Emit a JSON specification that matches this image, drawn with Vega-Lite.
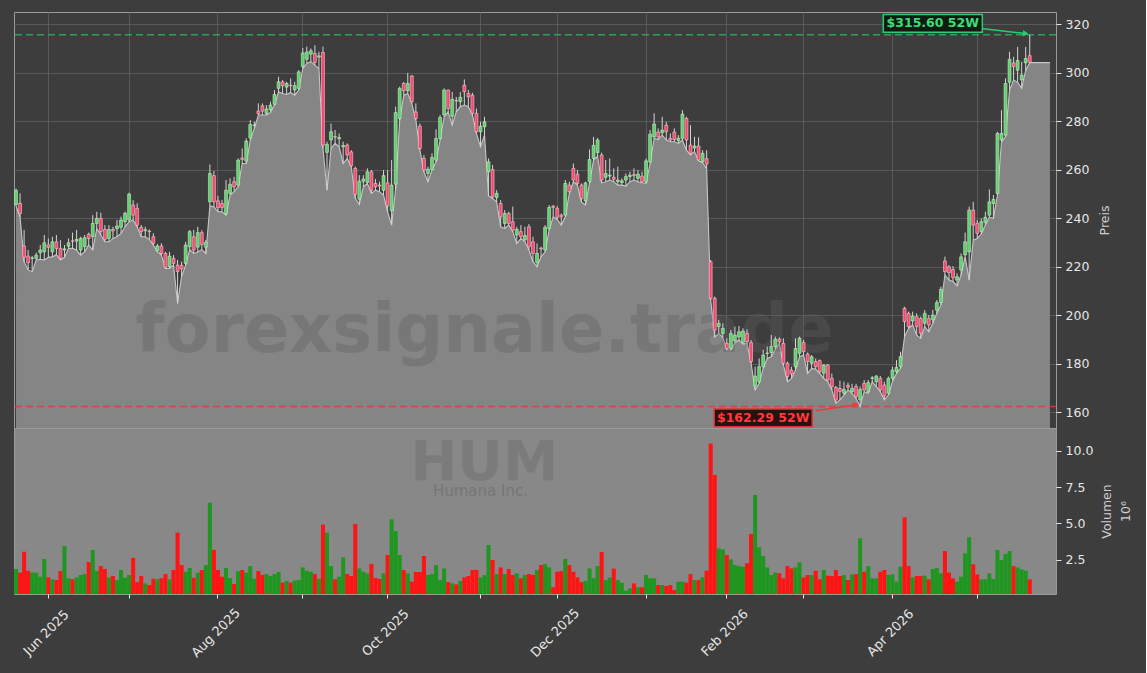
{
"$schema":"https://vega.github.io/schema/vega-lite/v6.json",
"background":"#3d3d3d",
"padding":{"left":12,"top":10,"right":14,"bottom":18},
"spacing":0,
"bounds":"flush",
"config":{"font":"DejaVu Sans","view":{"stroke":"#9a9a9a","strokeWidth":1},"axis":{"labelColor":"#e6e6e6","titleColor":"#cfcfcf","labelFontSize":12.5,"titleFontSize":12.5,"titleFontWeight":"normal","tickColor":"#e6e6e6","domain":false,"labelFont":"DejaVu Sans","titleFont":"DejaVu Sans"}},
"datasets":{"px":[
{"d":"2025-05-20","o":245.6,"h":252.2,"l":245.0,"c":251.4,"v":1.86},
{"d":"2025-05-21","o":246.1,"h":250.2,"l":240.5,"c":241.9,"v":1.61},
{"d":"2025-05-22","o":228.5,"h":235.1,"l":222.0,"c":223.8,"v":3.05},
{"d":"2025-05-23","o":224.3,"h":226.8,"l":218.6,"c":221.6,"v":1.74},
{"d":"2025-05-27","o":223.4,"h":224.3,"l":217.9,"c":223.6,"v":1.61},
{"d":"2025-05-28","o":223.4,"h":225.7,"l":222.7,"c":224.7,"v":1.61},
{"d":"2025-05-29","o":225.7,"h":228.9,"l":223.0,"c":226.8,"v":1.33},
{"d":"2025-05-30","o":226.1,"h":233.0,"l":222.7,"c":229.8,"v":2.55},
{"d":"2025-06-02","o":228.9,"h":231.6,"l":223.8,"c":227.9,"v":1.28},
{"d":"2025-06-03","o":226.1,"h":232.3,"l":224.0,"c":230.2,"v":1.15},
{"d":"2025-06-04","o":230.2,"h":233.0,"l":225.0,"c":227.5,"v":1.10},
{"d":"2025-06-05","o":227.5,"h":230.9,"l":222.7,"c":223.4,"v":1.72},
{"d":"2025-06-06","o":226.8,"h":228.9,"l":223.8,"c":227.3,"v":3.44},
{"d":"2025-06-09","o":228.4,"h":231.6,"l":227.5,"c":229.8,"v":1.22},
{"d":"2025-06-10","o":230.6,"h":234.0,"l":227.5,"c":230.4,"v":1.15},
{"d":"2025-06-11","o":230.5,"h":235.1,"l":226.8,"c":231.2,"v":1.28},
{"d":"2025-06-12","o":226.8,"h":232.3,"l":224.7,"c":231.6,"v":1.45},
{"d":"2025-06-13","o":228.2,"h":233.0,"l":226.1,"c":231.9,"v":1.51},
{"d":"2025-06-16","o":233.3,"h":234.0,"l":228.9,"c":231.6,"v":2.34},
{"d":"2025-06-17","o":232.3,"h":241.2,"l":226.8,"c":237.8,"v":3.17},
{"d":"2025-06-18","o":237.8,"h":242.6,"l":235.7,"c":239.9,"v":1.72},
{"d":"2025-06-20","o":239.9,"h":242.2,"l":233.0,"c":234.4,"v":2.06},
{"d":"2025-06-23","o":235.3,"h":237.1,"l":230.2,"c":231.2,"v":1.86},
{"d":"2025-06-24","o":231.6,"h":237.1,"l":230.2,"c":235.3,"v":1.28},
{"d":"2025-06-25","o":235.3,"h":236.4,"l":231.6,"c":234.7,"v":1.38},
{"d":"2025-06-26","o":235.6,"h":239.2,"l":232.3,"c":236.7,"v":1.10},
{"d":"2025-06-27","o":236.2,"h":240.6,"l":233.7,"c":239.2,"v":1.79},
{"d":"2025-06-30","o":238.5,"h":242.6,"l":236.4,"c":242.0,"v":1.26},
{"d":"2025-07-01","o":239.2,"h":250.5,"l":238.5,"c":249.9,"v":1.45},
{"d":"2025-07-02","o":245.4,"h":247.4,"l":239.2,"c":241.2,"v":2.62},
{"d":"2025-07-03","o":244.0,"h":246.1,"l":236.4,"c":237.1,"v":0.96},
{"d":"2025-07-07","o":236.2,"h":237.1,"l":232.3,"c":234.4,"v":1.38},
{"d":"2025-07-08","o":234.8,"h":236.4,"l":232.3,"c":235.2,"v":0.87},
{"d":"2025-07-09","o":234.6,"h":235.3,"l":231.2,"c":234.4,"v":0.76},
{"d":"2025-07-10","o":232.3,"h":233.7,"l":228.9,"c":229.6,"v":1.19},
{"d":"2025-07-11","o":226.5,"h":229.3,"l":226.1,"c":228.5,"v":1.15},
{"d":"2025-07-14","o":228.5,"h":229.6,"l":224.7,"c":225.4,"v":1.22},
{"d":"2025-07-15","o":225.4,"h":226.1,"l":219.2,"c":219.7,"v":1.51},
{"d":"2025-07-16","o":220.0,"h":226.1,"l":219.2,"c":224.3,"v":1.15},
{"d":"2025-07-17","o":223.4,"h":224.7,"l":220.6,"c":221.3,"v":1.79},
{"d":"2025-07-18","o":220.6,"h":222.7,"l":204.8,"c":217.9,"v":4.36},
{"d":"2025-07-21","o":220.5,"h":222.0,"l":216.0,"c":219.0,"v":2.13},
{"d":"2025-07-22","o":221.3,"h":230.2,"l":220.6,"c":228.9,"v":1.67},
{"d":"2025-07-23","o":228.2,"h":235.1,"l":227.0,"c":234.4,"v":1.93},
{"d":"2025-07-24","o":232.3,"h":235.1,"l":225.4,"c":226.8,"v":1.26},
{"d":"2025-07-25","o":228.0,"h":236.4,"l":226.0,"c":234.0,"v":1.61},
{"d":"2025-07-28","o":234.0,"h":235.0,"l":227.0,"c":229.0,"v":1.79},
{"d":"2025-07-29","o":228.0,"h":231.0,"l":225.4,"c":230.0,"v":2.13},
{"d":"2025-07-30","o":246.7,"h":262.1,"l":245.0,"c":258.4,"v":6.42},
{"d":"2025-07-31","o":257.5,"h":259.4,"l":244.7,"c":246.7,"v":3.17},
{"d":"2025-08-01","o":247.1,"h":249.2,"l":242.6,"c":244.3,"v":1.79},
{"d":"2025-08-04","o":246.0,"h":247.5,"l":242.6,"c":244.3,"v":1.33},
{"d":"2025-08-05","o":241.9,"h":255.7,"l":241.2,"c":251.5,"v":1.93},
{"d":"2025-08-06","o":250.2,"h":256.4,"l":249.5,"c":253.9,"v":1.24},
{"d":"2025-08-07","o":255.0,"h":257.0,"l":250.9,"c":252.9,"v":0.83},
{"d":"2025-08-08","o":253.6,"h":264.6,"l":252.9,"c":263.9,"v":1.72},
{"d":"2025-08-11","o":264.8,"h":268.7,"l":262.5,"c":264.2,"v":1.79},
{"d":"2025-08-12","o":263.5,"h":272.9,"l":262.5,"c":271.8,"v":1.61},
{"d":"2025-08-13","o":273.1,"h":280.4,"l":272.2,"c":278.6,"v":2.06},
{"d":"2025-08-14","o":278.2,"h":279.7,"l":277.0,"c":278.4,"v":1.19},
{"d":"2025-08-15","o":284.1,"h":287.3,"l":282.5,"c":283.1,"v":1.72},
{"d":"2025-08-18","o":286.3,"h":287.3,"l":282.5,"c":284.1,"v":1.45},
{"d":"2025-08-19","o":283.1,"h":286.6,"l":282.5,"c":285.0,"v":1.51},
{"d":"2025-08-20","o":284.7,"h":288.0,"l":283.6,"c":286.6,"v":1.38},
{"d":"2025-08-21","o":286.9,"h":292.8,"l":286.6,"c":291.0,"v":1.51},
{"d":"2025-08-22","o":293.5,"h":298.3,"l":292.1,"c":296.2,"v":1.65},
{"d":"2025-08-25","o":296.2,"h":296.9,"l":291.4,"c":294.6,"v":0.92},
{"d":"2025-08-26","o":294.0,"h":296.2,"l":291.0,"c":295.5,"v":1.03},
{"d":"2025-08-27","o":294.8,"h":297.6,"l":291.8,"c":294.6,"v":0.92},
{"d":"2025-08-28","o":292.8,"h":296.2,"l":290.7,"c":294.6,"v":1.06},
{"d":"2025-08-29","o":293.5,"h":301.0,"l":292.8,"c":300.3,"v":1.10},
{"d":"2025-09-02","o":302.5,"h":310.2,"l":301.7,"c":308.1,"v":1.97},
{"d":"2025-09-03","o":305.5,"h":310.7,"l":303.8,"c":308.5,"v":1.74},
{"d":"2025-09-04","o":307.6,"h":310.0,"l":304.5,"c":309.0,"v":1.67},
{"d":"2025-09-05","o":307.9,"h":311.3,"l":303.1,"c":304.2,"v":1.51},
{"d":"2025-09-08","o":306.4,"h":308.6,"l":301.7,"c":306.9,"v":1.19},
{"d":"2025-09-09","o":308.3,"h":310.7,"l":268.7,"c":270.1,"v":4.91},
{"d":"2025-09-10","o":267.1,"h":271.5,"l":251.5,"c":270.4,"v":4.36},
{"d":"2025-09-11","o":272.2,"h":279.0,"l":268.7,"c":275.6,"v":2.06},
{"d":"2025-09-12","o":273.6,"h":276.3,"l":270.8,"c":273.4,"v":1.15},
{"d":"2025-09-15","o":272.7,"h":274.9,"l":269.4,"c":273.2,"v":1.33},
{"d":"2025-09-16","o":269.4,"h":271.5,"l":262.5,"c":269.9,"v":2.66},
{"d":"2025-09-17","o":270.1,"h":270.8,"l":264.6,"c":266.0,"v":1.51},
{"d":"2025-09-18","o":267.3,"h":268.0,"l":261.2,"c":261.6,"v":1.38},
{"d":"2025-09-19","o":260.5,"h":261.2,"l":248.1,"c":249.8,"v":4.95},
{"d":"2025-09-22","o":247.8,"h":257.7,"l":245.6,"c":255.2,"v":1.90},
{"d":"2025-09-23","o":255.2,"h":257.7,"l":252.9,"c":256.1,"v":1.67},
{"d":"2025-09-24","o":254.7,"h":260.5,"l":254.3,"c":259.1,"v":1.56},
{"d":"2025-09-25","o":259.1,"h":259.8,"l":250.2,"c":251.5,"v":2.20},
{"d":"2025-09-26","o":254.3,"h":256.1,"l":251.5,"c":252.9,"v":1.24},
{"d":"2025-09-29","o":253.6,"h":255.0,"l":250.9,"c":253.2,"v":1.17},
{"d":"2025-09-30","o":251.5,"h":259.8,"l":249.5,"c":257.5,"v":1.56},
{"d":"2025-10-01","o":254.5,"h":259.8,"l":242.6,"c":245.0,"v":2.82},
{"d":"2025-10-02","o":243.0,"h":263.9,"l":237.1,"c":253.6,"v":5.28},
{"d":"2025-10-03","o":254.0,"h":286.0,"l":252.0,"c":283.5,"v":4.47},
{"d":"2025-10-06","o":281.1,"h":294.2,"l":280.4,"c":293.5,"v":2.82},
{"d":"2025-10-07","o":295.5,"h":296.2,"l":290.7,"c":292.5,"v":1.79},
{"d":"2025-10-08","o":292.5,"h":299.9,"l":291.4,"c":295.5,"v":1.56},
{"d":"2025-10-09","o":298.6,"h":299.0,"l":287.3,"c":288.0,"v":0.99},
{"d":"2025-10-10","o":283.8,"h":287.3,"l":280.4,"c":281.1,"v":1.65},
{"d":"2025-10-13","o":277.9,"h":279.0,"l":268.0,"c":268.7,"v":1.65},
{"d":"2025-10-14","o":264.6,"h":266.0,"l":259.1,"c":259.8,"v":2.75},
{"d":"2025-10-15","o":258.4,"h":261.2,"l":255.0,"c":260.2,"v":1.45},
{"d":"2025-10-16","o":260.0,"h":266.7,"l":259.8,"c":265.0,"v":1.51},
{"d":"2025-10-17","o":263.9,"h":276.6,"l":263.2,"c":272.8,"v":2.13},
{"d":"2025-10-20","o":272.8,"h":282.5,"l":272.2,"c":281.5,"v":1.10},
{"d":"2025-10-21","o":282.5,"h":293.5,"l":281.8,"c":292.8,"v":1.90},
{"d":"2025-10-22","o":292.8,"h":293.0,"l":283.8,"c":285.2,"v":0.96},
{"d":"2025-10-23","o":282.0,"h":292.0,"l":278.3,"c":289.0,"v":0.87},
{"d":"2025-10-24","o":288.5,"h":290.0,"l":283.8,"c":288.3,"v":0.80},
{"d":"2025-10-27","o":288.0,"h":292.0,"l":285.9,"c":289.8,"v":1.03},
{"d":"2025-10-28","o":294.8,"h":297.2,"l":286.6,"c":292.1,"v":1.28},
{"d":"2025-10-29","o":291.4,"h":292.8,"l":285.9,"c":290.0,"v":1.38},
{"d":"2025-10-30","o":290.7,"h":291.7,"l":282.5,"c":283.2,"v":1.79},
{"d":"2025-10-31","o":283.2,"h":285.2,"l":274.9,"c":275.6,"v":1.79},
{"d":"2025-11-03","o":275.6,"h":279.7,"l":269.4,"c":277.9,"v":1.28},
{"d":"2025-11-04","o":277.7,"h":281.8,"l":274.2,"c":279.7,"v":1.45},
{"d":"2025-11-05","o":259.1,"h":264.6,"l":249.1,"c":263.2,"v":3.51},
{"d":"2025-11-06","o":260.0,"h":261.9,"l":248.1,"c":248.8,"v":2.48},
{"d":"2025-11-07","o":248.5,"h":251.5,"l":246.7,"c":250.2,"v":1.51},
{"d":"2025-11-10","o":246.0,"h":247.4,"l":236.4,"c":240.5,"v":1.97},
{"d":"2025-11-11","o":237.8,"h":243.3,"l":235.7,"c":241.9,"v":1.51},
{"d":"2025-11-12","o":241.9,"h":242.6,"l":237.1,"c":237.8,"v":1.86},
{"d":"2025-11-13","o":238.5,"h":244.7,"l":234.4,"c":235.0,"v":1.45},
{"d":"2025-11-14","o":233.0,"h":236.4,"l":229.5,"c":235.3,"v":1.56},
{"d":"2025-11-17","o":234.4,"h":237.1,"l":231.6,"c":232.3,"v":1.22},
{"d":"2025-11-18","o":231.0,"h":236.4,"l":230.2,"c":232.8,"v":1.45},
{"d":"2025-11-19","o":236.4,"h":237.5,"l":226.8,"c":228.2,"v":1.51},
{"d":"2025-11-20","o":230.2,"h":232.3,"l":222.0,"c":225.4,"v":1.45},
{"d":"2025-11-21","o":221.6,"h":229.5,"l":219.9,"c":225.4,"v":1.79},
{"d":"2025-11-24","o":227.6,"h":228.2,"l":224.0,"c":227.3,"v":2.13},
{"d":"2025-11-25","o":226.8,"h":237.1,"l":226.1,"c":236.2,"v":2.20},
{"d":"2025-11-26","o":235.7,"h":245.4,"l":235.0,"c":244.4,"v":1.97},
{"d":"2025-11-28","o":244.9,"h":245.4,"l":240.5,"c":244.4,"v":0.60},
{"d":"2025-12-01","o":244.0,"h":244.9,"l":239.4,"c":240.3,"v":1.67},
{"d":"2025-12-02","o":241.2,"h":241.9,"l":237.1,"c":240.5,"v":1.72},
{"d":"2025-12-03","o":241.2,"h":255.7,"l":240.5,"c":254.3,"v":2.55},
{"d":"2025-12-04","o":253.6,"h":255.0,"l":250.2,"c":250.9,"v":2.13},
{"d":"2025-12-05","o":260.5,"h":262.5,"l":255.0,"c":255.7,"v":1.67},
{"d":"2025-12-08","o":258.1,"h":259.8,"l":253.6,"c":254.3,"v":1.28},
{"d":"2025-12-09","o":253.6,"h":254.3,"l":246.7,"c":248.1,"v":0.96},
{"d":"2025-12-10","o":247.1,"h":255.0,"l":245.4,"c":254.5,"v":1.03},
{"d":"2025-12-11","o":255.0,"h":268.3,"l":254.3,"c":264.2,"v":1.90},
{"d":"2025-12-12","o":264.6,"h":273.5,"l":264.0,"c":270.0,"v":1.22},
{"d":"2025-12-15","o":267.0,"h":273.0,"l":265.5,"c":272.2,"v":2.06},
{"d":"2025-12-16","o":266.0,"h":267.0,"l":254.5,"c":255.7,"v":3.03},
{"d":"2025-12-17","o":256.8,"h":263.9,"l":255.0,"c":258.4,"v":1.10},
{"d":"2025-12-18","o":257.3,"h":264.6,"l":255.7,"c":257.7,"v":1.28},
{"d":"2025-12-19","o":256.8,"h":260.5,"l":255.0,"c":256.0,"v":1.88},
{"d":"2025-12-22","o":255.0,"h":261.2,"l":253.6,"c":255.7,"v":1.10},
{"d":"2025-12-23","o":254.6,"h":256.4,"l":253.6,"c":255.4,"v":0.92},
{"d":"2025-12-24","o":255.7,"h":258.4,"l":253.2,"c":257.1,"v":0.37},
{"d":"2025-12-26","o":257.1,"h":259.1,"l":255.0,"c":257.7,"v":0.53},
{"d":"2025-12-29","o":257.9,"h":260.5,"l":255.7,"c":257.5,"v":0.87},
{"d":"2025-12-30","o":256.4,"h":259.8,"l":255.0,"c":258.1,"v":0.60},
{"d":"2025-12-31","o":257.3,"h":259.1,"l":254.6,"c":255.0,"v":0.60},
{"d":"2026-01-02","o":255.0,"h":264.6,"l":254.3,"c":263.6,"v":1.45},
{"d":"2026-01-05","o":263.2,"h":276.3,"l":262.5,"c":274.6,"v":1.22},
{"d":"2026-01-06","o":273.5,"h":283.2,"l":272.9,"c":278.8,"v":1.22},
{"d":"2026-01-07","o":275.5,"h":277.0,"l":272.4,"c":273.5,"v":0.76},
{"d":"2026-01-08","o":275.2,"h":281.8,"l":274.2,"c":276.3,"v":0.76},
{"d":"2026-01-09","o":278.3,"h":279.7,"l":272.2,"c":275.6,"v":0.69},
{"d":"2026-01-12","o":272.9,"h":274.9,"l":271.5,"c":272.2,"v":0.76},
{"d":"2026-01-13","o":275.5,"h":277.0,"l":271.5,"c":272.4,"v":0.41},
{"d":"2026-01-14","o":271.9,"h":274.2,"l":270.8,"c":272.9,"v":0.99},
{"d":"2026-01-15","o":272.9,"h":284.5,"l":272.2,"c":282.9,"v":0.99},
{"d":"2026-01-16","o":281.1,"h":281.8,"l":268.0,"c":272.2,"v":0.92},
{"d":"2026-01-20","o":270.1,"h":278.3,"l":266.0,"c":266.7,"v":1.51},
{"d":"2026-01-21","o":268.9,"h":273.5,"l":267.4,"c":269.7,"v":1.10},
{"d":"2026-01-22","o":269.7,"h":273.3,"l":263.6,"c":263.9,"v":1.10},
{"d":"2026-01-23","o":263.2,"h":268.0,"l":262.8,"c":266.7,"v":1.28},
{"d":"2026-01-26","o":264.5,"h":268.0,"l":260.5,"c":262.3,"v":1.74},
{"d":"2026-01-27","o":222.0,"h":222.7,"l":206.2,"c":206.9,"v":10.5},
{"d":"2026-01-28","o":206.9,"h":207.6,"l":191.0,"c":193.8,"v":8.33},
{"d":"2026-01-29","o":195.2,"h":198.0,"l":192.4,"c":196.6,"v":3.28},
{"d":"2026-01-30","o":192.4,"h":196.6,"l":190.8,"c":194.5,"v":3.21},
{"d":"2026-02-02","o":188.3,"h":190.4,"l":185.6,"c":186.2,"v":2.82},
{"d":"2026-02-03","o":186.2,"h":193.8,"l":185.6,"c":192.4,"v":2.52},
{"d":"2026-02-04","o":189.4,"h":195.2,"l":188.6,"c":191.7,"v":2.13},
{"d":"2026-02-05","o":191.0,"h":195.5,"l":189.7,"c":193.1,"v":2.06},
{"d":"2026-02-06","o":188.6,"h":194.5,"l":188.0,"c":193.4,"v":2.02},
{"d":"2026-02-09","o":192.4,"h":194.1,"l":188.3,"c":189.0,"v":2.25},
{"d":"2026-02-10","o":188.6,"h":189.7,"l":180.1,"c":180.8,"v":4.27},
{"d":"2026-02-11","o":170.7,"h":178.7,"l":169.1,"c":174.8,"v":6.95},
{"d":"2026-02-12","o":172.5,"h":182.1,"l":171.8,"c":178.7,"v":3.35},
{"d":"2026-02-13","o":178.7,"h":185.6,"l":178.0,"c":183.5,"v":2.75},
{"d":"2026-02-17","o":184.1,"h":187.0,"l":182.1,"c":184.3,"v":1.97},
{"d":"2026-02-18","o":184.5,"h":191.8,"l":182.8,"c":187.0,"v":1.44},
{"d":"2026-02-19","o":187.0,"h":191.1,"l":185.8,"c":190.0,"v":1.61},
{"d":"2026-02-20","o":190.0,"h":190.8,"l":188.3,"c":189.0,"v":1.56},
{"d":"2026-02-23","o":188.3,"h":190.4,"l":179.4,"c":180.1,"v":1.22},
{"d":"2026-02-24","o":180.1,"h":180.8,"l":172.5,"c":174.6,"v":2.06},
{"d":"2026-02-25","o":177.3,"h":178.7,"l":173.9,"c":175.7,"v":1.90},
{"d":"2026-02-26","o":178.7,"h":190.4,"l":177.3,"c":186.2,"v":1.97},
{"d":"2026-02-27","o":184.2,"h":191.1,"l":182.8,"c":190.4,"v":2.32},
{"d":"2026-03-02","o":188.6,"h":189.7,"l":183.5,"c":184.9,"v":1.28},
{"d":"2026-03-03","o":183.9,"h":184.5,"l":175.9,"c":180.8,"v":1.44},
{"d":"2026-03-04","o":180.1,"h":183.5,"l":178.0,"c":182.8,"v":1.44},
{"d":"2026-03-05","o":180.8,"h":182.1,"l":177.6,"c":178.7,"v":1.74},
{"d":"2026-03-06","o":181.2,"h":181.7,"l":175.9,"c":176.6,"v":1.15},
{"d":"2026-03-09","o":176.0,"h":179.8,"l":173.9,"c":179.4,"v":1.79},
{"d":"2026-03-10","o":179.4,"h":179.8,"l":172.5,"c":173.2,"v":1.40},
{"d":"2026-03-11","o":173.9,"h":175.9,"l":169.1,"c":170.5,"v":1.38},
{"d":"2026-03-12","o":170.2,"h":170.7,"l":163.6,"c":165.0,"v":1.79},
{"d":"2026-03-13","o":169.7,"h":172.9,"l":165.0,"c":168.5,"v":1.38},
{"d":"2026-03-16","o":167.7,"h":172.5,"l":167.0,"c":169.3,"v":1.44},
{"d":"2026-03-17","o":171.0,"h":172.1,"l":169.1,"c":170.2,"v":1.10},
{"d":"2026-03-18","o":168.4,"h":171.6,"l":167.7,"c":169.7,"v":1.49},
{"d":"2026-03-19","o":170.5,"h":171.6,"l":165.6,"c":166.3,"v":1.51},
{"d":"2026-03-20","o":165.0,"h":170.5,"l":162.29,"c":169.3,"v":3.97},
{"d":"2026-03-23","o":171.8,"h":173.2,"l":168.4,"c":169.1,"v":1.67},
{"d":"2026-03-24","o":168.4,"h":173.2,"l":167.7,"c":172.1,"v":2.06},
{"d":"2026-03-25","o":173.9,"h":174.8,"l":172.5,"c":174.1,"v":1.22},
{"d":"2026-03-26","o":172.5,"h":175.3,"l":170.5,"c":174.8,"v":1.22},
{"d":"2026-03-27","o":173.9,"h":174.8,"l":168.4,"c":169.1,"v":1.67},
{"d":"2026-03-30","o":171.1,"h":172.5,"l":165.0,"c":166.6,"v":1.79},
{"d":"2026-03-31","o":167.7,"h":174.6,"l":167.0,"c":173.9,"v":1.44},
{"d":"2026-04-01","o":173.9,"h":178.7,"l":172.5,"c":177.3,"v":1.49},
{"d":"2026-04-02","o":176.6,"h":181.4,"l":175.9,"c":178.4,"v":0.99},
{"d":"2026-04-06","o":178.7,"h":184.9,"l":178.0,"c":182.8,"v":2.02},
{"d":"2026-04-07","o":202.8,"h":203.4,"l":191.1,"c":197.3,"v":5.41},
{"d":"2026-04-08","o":200.7,"h":201.4,"l":194.5,"c":195.2,"v":2.06},
{"d":"2026-04-09","o":197.6,"h":201.4,"l":195.9,"c":199.6,"v":1.28},
{"d":"2026-04-10","o":199.3,"h":200.7,"l":191.8,"c":195.2,"v":1.38},
{"d":"2026-04-13","o":198.6,"h":199.3,"l":190.4,"c":192.4,"v":1.38},
{"d":"2026-04-14","o":196.6,"h":202.1,"l":195.2,"c":200.7,"v":1.40},
{"d":"2026-04-15","o":198.6,"h":200.0,"l":193.1,"c":195.9,"v":1.15},
{"d":"2026-04-16","o":198.0,"h":202.1,"l":196.6,"c":200.0,"v":1.86},
{"d":"2026-04-17","o":202.0,"h":206.2,"l":200.7,"c":205.1,"v":1.93},
{"d":"2026-04-20","o":205.1,"h":211.7,"l":204.1,"c":210.6,"v":1.56},
{"d":"2026-04-21","o":222.3,"h":224.1,"l":216.5,"c":217.9,"v":3.10},
{"d":"2026-04-22","o":219.9,"h":220.6,"l":214.4,"c":217.5,"v":1.61},
{"d":"2026-04-23","o":218.8,"h":220.2,"l":213.8,"c":215.5,"v":1.22},
{"d":"2026-04-24","o":214.4,"h":217.2,"l":212.0,"c":215.8,"v":0.99},
{"d":"2026-04-27","o":218.6,"h":225.4,"l":216.5,"c":224.0,"v":1.33},
{"d":"2026-04-28","o":224.8,"h":234.0,"l":224.1,"c":230.2,"v":2.94},
{"d":"2026-04-29","o":226.0,"h":244.7,"l":214.4,"c":243.3,"v":4.04},
{"d":"2026-04-30","o":243.3,"h":246.7,"l":230.9,"c":237.1,"v":2.18},
{"d":"2026-05-01","o":237.8,"h":239.2,"l":231.6,"c":233.7,"v":1.49},
{"d":"2026-05-04","o":234.4,"h":239.9,"l":233.4,"c":238.5,"v":1.15},
{"d":"2026-05-05","o":238.1,"h":242.6,"l":237.1,"c":240.3,"v":1.15},
{"d":"2026-05-06","o":241.2,"h":251.8,"l":240.3,"c":246.7,"v":1.56},
{"d":"2026-05-07","o":246.0,"h":249.5,"l":239.9,"c":247.7,"v":1.17},
{"d":"2026-05-08","o":250.2,"h":275.6,"l":249.5,"c":274.9,"v":3.17},
{"d":"2026-05-11","o":272.2,"h":284.5,"l":271.5,"c":274.9,"v":2.48},
{"d":"2026-05-12","o":274.2,"h":297.6,"l":273.5,"c":295.5,"v":2.89},
{"d":"2026-05-13","o":296.0,"h":308.6,"l":292.8,"c":305.5,"v":3.10},
{"d":"2026-05-14","o":304.0,"h":306.5,"l":296.9,"c":302.5,"v":2.06},
{"d":"2026-05-15","o":301.0,"h":310.6,"l":296.0,"c":305.0,"v":1.97},
{"d":"2026-05-18","o":297.0,"h":304.5,"l":293.5,"c":299.0,"v":1.83},
{"d":"2026-05-19","o":304.0,"h":310.6,"l":301.0,"c":305.8,"v":1.74},
{"d":"2026-05-20","o":307.0,"h":315.6,"l":304.1,"c":304.3,"v":1.15},
{"d":"2026-05-21","l":304.1},
{"d":"2026-05-22","l":304.1},
{"d":"2026-05-26","l":304.1},
{"d":"2026-05-27","l":304.1},
{"d":"2026-05-28","l":304.1}
]},
"vconcat":[
{
"width":1042,"height":416,
"view":{"fill":"#3d3d3d","stroke":"#9a9a9a"},
"layer":[
{"data":{"name":"px"},
 "mark":{"type":"area","color":"#858585","opacity":1,"line":{"color":"#c6c6c6","strokeWidth":1.1}},
 "encoding":{
  "x":{"field":"d","type":"ordinal","scale":{"type":"band","paddingInner":0,"paddingOuter":0,"domain":["2025-05-20","2025-05-21","2025-05-22","2025-05-23","2025-05-27","2025-05-28","2025-05-29","2025-05-30","2025-06-02","2025-06-03","2025-06-04","2025-06-05","2025-06-06","2025-06-09","2025-06-10","2025-06-11","2025-06-12","2025-06-13","2025-06-16","2025-06-17","2025-06-18","2025-06-20","2025-06-23","2025-06-24","2025-06-25","2025-06-26","2025-06-27","2025-06-30","2025-07-01","2025-07-02","2025-07-03","2025-07-07","2025-07-08","2025-07-09","2025-07-10","2025-07-11","2025-07-14","2025-07-15","2025-07-16","2025-07-17","2025-07-18","2025-07-21","2025-07-22","2025-07-23","2025-07-24","2025-07-25","2025-07-28","2025-07-29","2025-07-30","2025-07-31","2025-08-01","2025-08-04","2025-08-05","2025-08-06","2025-08-07","2025-08-08","2025-08-11","2025-08-12","2025-08-13","2025-08-14","2025-08-15","2025-08-18","2025-08-19","2025-08-20","2025-08-21","2025-08-22","2025-08-25","2025-08-26","2025-08-27","2025-08-28","2025-08-29","2025-09-02","2025-09-03","2025-09-04","2025-09-05","2025-09-08","2025-09-09","2025-09-10","2025-09-11","2025-09-12","2025-09-15","2025-09-16","2025-09-17","2025-09-18","2025-09-19","2025-09-22","2025-09-23","2025-09-24","2025-09-25","2025-09-26","2025-09-29","2025-09-30","2025-10-01","2025-10-02","2025-10-03","2025-10-06","2025-10-07","2025-10-08","2025-10-09","2025-10-10","2025-10-13","2025-10-14","2025-10-15","2025-10-16","2025-10-17","2025-10-20","2025-10-21","2025-10-22","2025-10-23","2025-10-24","2025-10-27","2025-10-28","2025-10-29","2025-10-30","2025-10-31","2025-11-03","2025-11-04","2025-11-05","2025-11-06","2025-11-07","2025-11-10","2025-11-11","2025-11-12","2025-11-13","2025-11-14","2025-11-17","2025-11-18","2025-11-19","2025-11-20","2025-11-21","2025-11-24","2025-11-25","2025-11-26","2025-11-28","2025-12-01","2025-12-02","2025-12-03","2025-12-04","2025-12-05","2025-12-08","2025-12-09","2025-12-10","2025-12-11","2025-12-12","2025-12-15","2025-12-16","2025-12-17","2025-12-18","2025-12-19","2025-12-22","2025-12-23","2025-12-24","2025-12-26","2025-12-29","2025-12-30","2025-12-31","2026-01-02","2026-01-05","2026-01-06","2026-01-07","2026-01-08","2026-01-09","2026-01-12","2026-01-13","2026-01-14","2026-01-15","2026-01-16","2026-01-20","2026-01-21","2026-01-22","2026-01-23","2026-01-26","2026-01-27","2026-01-28","2026-01-29","2026-01-30","2026-02-02","2026-02-03","2026-02-04","2026-02-05","2026-02-06","2026-02-09","2026-02-10","2026-02-11","2026-02-12","2026-02-13","2026-02-17","2026-02-18","2026-02-19","2026-02-20","2026-02-23","2026-02-24","2026-02-25","2026-02-26","2026-02-27","2026-03-02","2026-03-03","2026-03-04","2026-03-05","2026-03-06","2026-03-09","2026-03-10","2026-03-11","2026-03-12","2026-03-13","2026-03-16","2026-03-17","2026-03-18","2026-03-19","2026-03-20","2026-03-23","2026-03-24","2026-03-25","2026-03-26","2026-03-27","2026-03-30","2026-03-31","2026-04-01","2026-04-02","2026-04-06","2026-04-07","2026-04-08","2026-04-09","2026-04-10","2026-04-13","2026-04-14","2026-04-15","2026-04-16","2026-04-17","2026-04-20","2026-04-21","2026-04-22","2026-04-23","2026-04-24","2026-04-27","2026-04-28","2026-04-29","2026-04-30","2026-05-01","2026-05-04","2026-05-05","2026-05-06","2026-05-07","2026-05-08","2026-05-11","2026-05-12","2026-05-13","2026-05-14","2026-05-15","2026-05-18","2026-05-19","2026-05-20","2026-05-21","2026-05-22","2026-05-26","2026-05-27","2026-05-28","2026-05-29"]},
   "axis":{"values":["2025-06-02","2025-07-01","2025-08-01","2025-09-02","2025-10-01","2025-11-03","2025-12-01","2026-01-02","2026-02-02","2026-03-02","2026-04-01","2026-05-01"],"labels":false,"ticks":false,"domain":false,"title":null,"grid":true,"gridColor":"#5f5f5f","gridWidth":0.8}},
  "y":{"field":"l","type":"quantitative","scale":{"domain":[153.4,325],"zero":false,"nice":false},
   "axis":{"orient":"right","values":[160,180,200,220,240,260,280,300,320],"grid":true,"gridColor":"#5f5f5f","gridWidth":0.8,"tickSize":5,"labelPadding":4,"title":"Preis","titleAngle":270,"titleBaseline":"top","titlePadding":10}},
  "y2":{"datum":153.4}}},
{"data":{"values":[{"d":"2025-11-04","p":184.7,"t":"forexsignale.trade"}]},
 "mark":{"type":"text","font":"DejaVu Sans","fontWeight":"bold","fontSize":67,"color":"#606060","opacity":0.35,"align":"center","baseline":"alphabetic"},
 "encoding":{"x":{"field":"d","type":"ordinal"},"y":{"field":"p","type":"quantitative"},"text":{"field":"t"}}},
{"data":{"values":[{"p":315.6,"k":"hi"},{"p":162.29,"k":"lo"}]},
 "mark":{"type":"rule","strokeDash":[7,4],"strokeWidth":1.4,"opacity":0.85},
 "encoding":{"y":{"field":"p","type":"quantitative"},"color":{"field":"k","type":"nominal","scale":{"domain":["hi","lo"],"range":["#2fae5c","#e03a3a"]},"legend":null}}},
{"data":{"name":"px"},
 "mark":{"type":"rule","color":"#d4d4d4","strokeWidth":1},
 "encoding":{"x":{"field":"d","type":"ordinal"},"y":{"field":"l","type":"quantitative"},"y2":{"field":"h"}}},
{"data":{"name":"px"},
 "mark":{"type":"bar","width":{"band":0.72},"strokeWidth":0.6},
 "encoding":{"x":{"field":"d","type":"ordinal"},"y":{"field":"o","type":"quantitative"},"y2":{"field":"c"},
  "fill":{"condition":{"test":"datum.c >= datum.o","value":"#5fcf6c"},"value":"#f24a6e"},
  "stroke":{"condition":{"test":"datum.c >= datum.o","value":"#c8efc8"},"value":"#ffc4d0"}}},
{"data":{"values":[{"d":"2026-05-04","p":318.2},{"d":"2026-05-19","p":316.1}]},
 "mark":{"type":"line","color":"#2ecc71","strokeWidth":1.6},
 "encoding":{"x":{"field":"d","type":"ordinal"},"y":{"field":"p","type":"quantitative"}}},
{"data":{"values":[{"d":"2026-05-19","p":316.1}]},
 "mark":{"type":"point","shape":"triangle-right","filled":true,"size":45,"angle":7,"color":"#2ecc71","opacity":1},
 "encoding":{"x":{"field":"d","type":"ordinal"},"y":{"field":"p","type":"quantitative"}}},
{"data":{"values":[{"d":"2026-03-05","p":160.5},{"d":"2026-03-19","p":163.0}]},
 "mark":{"type":"line","color":"#f03a3a","strokeWidth":1.6},
 "encoding":{"x":{"field":"d","type":"ordinal"},"y":{"field":"p","type":"quantitative"}}},
{"data":{"values":[{"d":"2026-03-19","p":163.0}]},
 "mark":{"type":"point","shape":"triangle-right","filled":true,"size":45,"angle":-10,"color":"#f03a3a","opacity":1},
 "encoding":{"x":{"field":"d","type":"ordinal"},"y":{"field":"p","type":"quantitative"}}},
{"data":{"values":[{"d":"2026-04-16","p":320.3}]},
 "mark":{"type":"point","shape":"M-1,-0.18H1V0.18H-1Z","size":9801,"filled":true,"fill":"#0c1c10","stroke":"#2ecc71","strokeWidth":1.5,"opacity":1},
 "encoding":{"x":{"field":"d","type":"ordinal"},"y":{"field":"p","type":"quantitative"}}},
{"data":{"values":[{"d":"2026-04-16","p":320.3,"t":"$315.60 52W"}]},
 "mark":{"type":"text","font":"DejaVu Sans","fontWeight":"bold","fontSize":12.5,"color":"#3ddc7a","align":"center","baseline":"middle"},
 "encoding":{"x":{"field":"d","type":"ordinal"},"y":{"field":"p","type":"quantitative"},"text":{"field":"t"}}},
{"data":{"values":[{"d":"2026-02-13","p":157.6}]},
 "mark":{"type":"point","shape":"M-1,-0.18H1V0.18H-1Z","size":9604,"filled":true,"fill":"#2a1010","stroke":"#e23434","strokeWidth":1.5,"opacity":1},
 "encoding":{"x":{"field":"d","type":"ordinal"},"y":{"field":"p","type":"quantitative"}}},
{"data":{"values":[{"d":"2026-02-13","p":157.6,"t":"$162.29 52W"}]},
 "mark":{"type":"text","font":"DejaVu Sans","fontWeight":"bold","fontSize":12.5,"color":"#ff3b3b","align":"center","baseline":"middle"},
 "encoding":{"x":{"field":"d","type":"ordinal"},"y":{"field":"p","type":"quantitative"},"text":{"field":"t"}}}
]},
{
"width":1042,"height":166,
"view":{"fill":"#888888","stroke":"#9a9a9a"},
"layer":[
{"data":{"values":[{"d":"2025-11-04","v":7.98,"t":"HUM"}]},
 "mark":{"type":"text","font":"DejaVu Sans","fontWeight":"bold","fontSize":56,"color":"#606060","opacity":0.3,"align":"center","baseline":"alphabetic"},
 "encoding":{
  "x":{"field":"d","type":"ordinal","scale":{"type":"band","paddingInner":0,"paddingOuter":0,"domain":["2025-05-20","2025-05-21","2025-05-22","2025-05-23","2025-05-27","2025-05-28","2025-05-29","2025-05-30","2025-06-02","2025-06-03","2025-06-04","2025-06-05","2025-06-06","2025-06-09","2025-06-10","2025-06-11","2025-06-12","2025-06-13","2025-06-16","2025-06-17","2025-06-18","2025-06-20","2025-06-23","2025-06-24","2025-06-25","2025-06-26","2025-06-27","2025-06-30","2025-07-01","2025-07-02","2025-07-03","2025-07-07","2025-07-08","2025-07-09","2025-07-10","2025-07-11","2025-07-14","2025-07-15","2025-07-16","2025-07-17","2025-07-18","2025-07-21","2025-07-22","2025-07-23","2025-07-24","2025-07-25","2025-07-28","2025-07-29","2025-07-30","2025-07-31","2025-08-01","2025-08-04","2025-08-05","2025-08-06","2025-08-07","2025-08-08","2025-08-11","2025-08-12","2025-08-13","2025-08-14","2025-08-15","2025-08-18","2025-08-19","2025-08-20","2025-08-21","2025-08-22","2025-08-25","2025-08-26","2025-08-27","2025-08-28","2025-08-29","2025-09-02","2025-09-03","2025-09-04","2025-09-05","2025-09-08","2025-09-09","2025-09-10","2025-09-11","2025-09-12","2025-09-15","2025-09-16","2025-09-17","2025-09-18","2025-09-19","2025-09-22","2025-09-23","2025-09-24","2025-09-25","2025-09-26","2025-09-29","2025-09-30","2025-10-01","2025-10-02","2025-10-03","2025-10-06","2025-10-07","2025-10-08","2025-10-09","2025-10-10","2025-10-13","2025-10-14","2025-10-15","2025-10-16","2025-10-17","2025-10-20","2025-10-21","2025-10-22","2025-10-23","2025-10-24","2025-10-27","2025-10-28","2025-10-29","2025-10-30","2025-10-31","2025-11-03","2025-11-04","2025-11-05","2025-11-06","2025-11-07","2025-11-10","2025-11-11","2025-11-12","2025-11-13","2025-11-14","2025-11-17","2025-11-18","2025-11-19","2025-11-20","2025-11-21","2025-11-24","2025-11-25","2025-11-26","2025-11-28","2025-12-01","2025-12-02","2025-12-03","2025-12-04","2025-12-05","2025-12-08","2025-12-09","2025-12-10","2025-12-11","2025-12-12","2025-12-15","2025-12-16","2025-12-17","2025-12-18","2025-12-19","2025-12-22","2025-12-23","2025-12-24","2025-12-26","2025-12-29","2025-12-30","2025-12-31","2026-01-02","2026-01-05","2026-01-06","2026-01-07","2026-01-08","2026-01-09","2026-01-12","2026-01-13","2026-01-14","2026-01-15","2026-01-16","2026-01-20","2026-01-21","2026-01-22","2026-01-23","2026-01-26","2026-01-27","2026-01-28","2026-01-29","2026-01-30","2026-02-02","2026-02-03","2026-02-04","2026-02-05","2026-02-06","2026-02-09","2026-02-10","2026-02-11","2026-02-12","2026-02-13","2026-02-17","2026-02-18","2026-02-19","2026-02-20","2026-02-23","2026-02-24","2026-02-25","2026-02-26","2026-02-27","2026-03-02","2026-03-03","2026-03-04","2026-03-05","2026-03-06","2026-03-09","2026-03-10","2026-03-11","2026-03-12","2026-03-13","2026-03-16","2026-03-17","2026-03-18","2026-03-19","2026-03-20","2026-03-23","2026-03-24","2026-03-25","2026-03-26","2026-03-27","2026-03-30","2026-03-31","2026-04-01","2026-04-02","2026-04-06","2026-04-07","2026-04-08","2026-04-09","2026-04-10","2026-04-13","2026-04-14","2026-04-15","2026-04-16","2026-04-17","2026-04-20","2026-04-21","2026-04-22","2026-04-23","2026-04-24","2026-04-27","2026-04-28","2026-04-29","2026-04-30","2026-05-01","2026-05-04","2026-05-05","2026-05-06","2026-05-07","2026-05-08","2026-05-11","2026-05-12","2026-05-13","2026-05-14","2026-05-15","2026-05-18","2026-05-19","2026-05-20","2026-05-21","2026-05-22","2026-05-26","2026-05-27","2026-05-28","2026-05-29"]},
   "axis":{"values":["2025-06-02","2025-07-01","2025-08-01","2025-09-02","2025-10-01","2025-11-03","2025-12-01","2026-01-02","2026-02-02","2026-03-02","2026-04-01","2026-05-01"],
    "labelExpr":"datum.value == '2025-06-02' ? 'Jun 2025' : datum.value == '2025-08-01' ? 'Aug 2025' : datum.value == '2025-10-01' ? 'Oct 2025' : datum.value == '2025-12-01' ? 'Dec 2025' : datum.value == '2026-02-02' ? 'Feb 2026' : datum.value == '2026-04-01' ? 'Apr 2026' : ''",
    "labelAngle":-45,"labelAlign":"center","labelBaseline":"middle","labelPadding":34.5,"labelOffset":-2,"labelFontSize":13,"tickSize":4,"title":null,"grid":false,"domain":false,"labelOverlap":false}},
  "y":{"field":"v","type":"quantitative","scale":{"domain":[0.14,11.56],"zero":false,"nice":false},
   "axis":{"orient":"right","values":[2.5,5,7.5,10],"format":".1f","grid":false,"tickSize":5,"labelPadding":4,"title":["Volumen","10⁶"],"titleAngle":270,"titleBaseline":"top","titleX":44,"titleY":83,"titleLineHeight":19}},
  "text":{"field":"t"}}},
{"data":{"values":[{"d":"2025-11-03","v":6.9,"t":"Humana Inc."}]},
 "mark":{"type":"text","font":"DejaVu Sans","fontSize":15,"color":"#555555","opacity":0.35,"align":"center","baseline":"alphabetic"},
 "encoding":{"x":{"field":"d","type":"ordinal"},"y":{"field":"v","type":"quantitative"},"text":{"field":"t"}}},
{"data":{"name":"px"},
 "mark":{"type":"bar","width":{"band":1},"clip":true},
 "encoding":{"x":{"field":"d","type":"ordinal"},"y":{"field":"v","type":"quantitative"},
  "color":{"condition":{"test":"datum.c >= datum.o","value":"#1f961f"},"value":"#ff1414"}}}
]}
]
}
